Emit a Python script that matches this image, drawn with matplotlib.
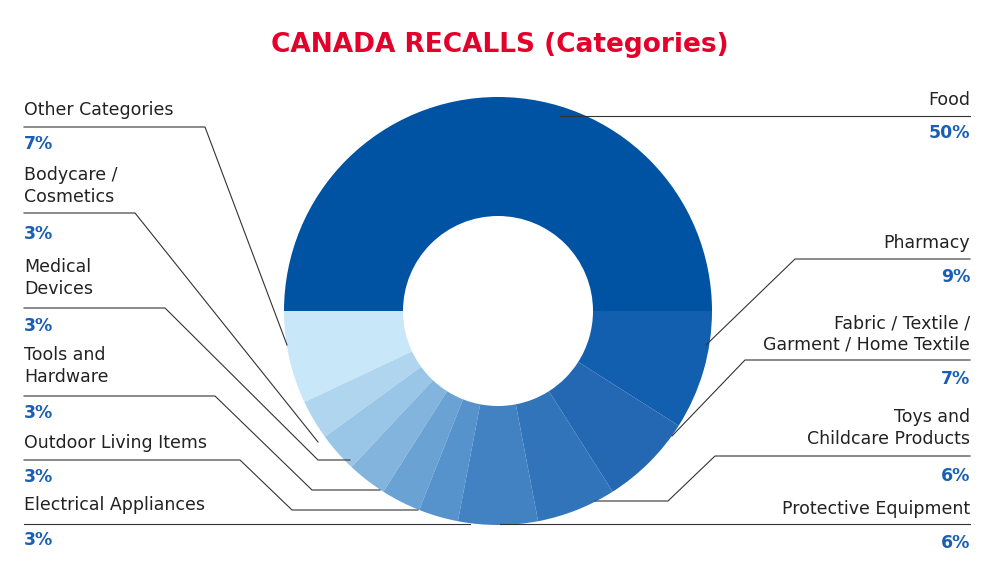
import matplotlib
matplotlib.use("Agg")
import matplotlib.pyplot as plt

categories = ["Food", "Other Categories", "Bodycare /\nCosmetics", "Medical\nDevices", "Tools and\nHardware",
              "Outdoor Living Items", "Electrical Appliances", "Protective Equipment",
              "Toys and\nChildcare Products", "Fabric / Textile /\nGarment / Home Textile", "Pharmacy"]
values = [50, 7, 3, 3, 3, 3, 3, 6, 6, 7, 9]
colors = ["#0052a3", "#c8e8f9", "#b0d6ef", "#99c5e6", "#82b4dd", "#6aa2d4", "#5692cb",
          "#4282c3", "#3274ba", "#2468b3", "#135faf"]

H = 567
fig = plt.figure(figsize=(10, 5.67), dpi=100)
ax = fig.add_axes([0, 0, 1, 1])
ax.set_xlim(0, 1000); ax.set_ylim(0, H); ax.axis("off")

cx, cy, R = 498, H - 311, 214
ax.pie(values, colors=colors, startangle=0, counterclock=True, center=(cx, cy), radius=R,
       wedgeprops=dict(width=R - 95, linewidth=0), frame=True)
ax.set_xlim(0, 1000); ax.set_ylim(0, H); ax.set_aspect("equal"); ax.axis("off")

fig.text(0.5, 1 - 45 / H, "CANADA RECALLS (Categories)", ha="center", va="center",
         color="#e3002b", fontsize=19, fontweight="bold")

# label layout: (name_y_center, pct_y, side, line path in pixel coords)
layout = {
    "Food": (100, 133, "r", [(970, 116), (560, 116)]),
    "Pharmacy": (243, 277, "r", [(970, 259), (795, 259), (706, 345)]),
    "Fabric / Textile /\nGarment / Home Textile": (334, 379, "r", [(970, 360), (745, 360), (672, 436)]),
    "Toys and\nChildcare Products": (428, 476, "r", [(970, 456), (715, 456), (668, 501), (595, 501)]),
    "Protective Equipment": (509, 543, "r", [(970, 524), (500, 524)]),
    "Other Categories": (110, 144, "l", [(24, 127), (205, 127), (287, 345)]),
    "Bodycare /\nCosmetics": (186, 234, "l", [(24, 213), (135, 213), (318, 442)]),
    "Medical\nDevices": (278, 326, "l", [(24, 308), (165, 308), (318, 460), (350, 460)]),
    "Tools and\nHardware": (366, 413, "l", [(24, 396), (215, 396), (312, 490), (380, 490)]),
    "Outdoor Living Items": (443, 477, "l", [(24, 460), (240, 460), (292, 510), (418, 510)]),
    "Electrical Appliances": (505, 540, "l", [(24, 524), (470, 524)]),
}
for name, v in zip(categories, values):
    ny, py, side, path = layout[name]
    x = 970 if side == "r" else 24
    ha = "right" if side == "r" else "left"
    ax.text(x, H - ny, name, ha=ha, va="center", fontsize=12.5, color="#222222",
            linespacing=1.25, multialignment=ha)
    ax.text(x, H - py, f"{v}%", ha=ha, va="center", fontsize=12.5, fontweight="bold", color="#1a5fb4")
    ax.plot([p[0] for p in path], [H - p[1] for p in path], color="#333333", lw=0.8)

fig.savefig("out.png", dpi=100, facecolor="white")
